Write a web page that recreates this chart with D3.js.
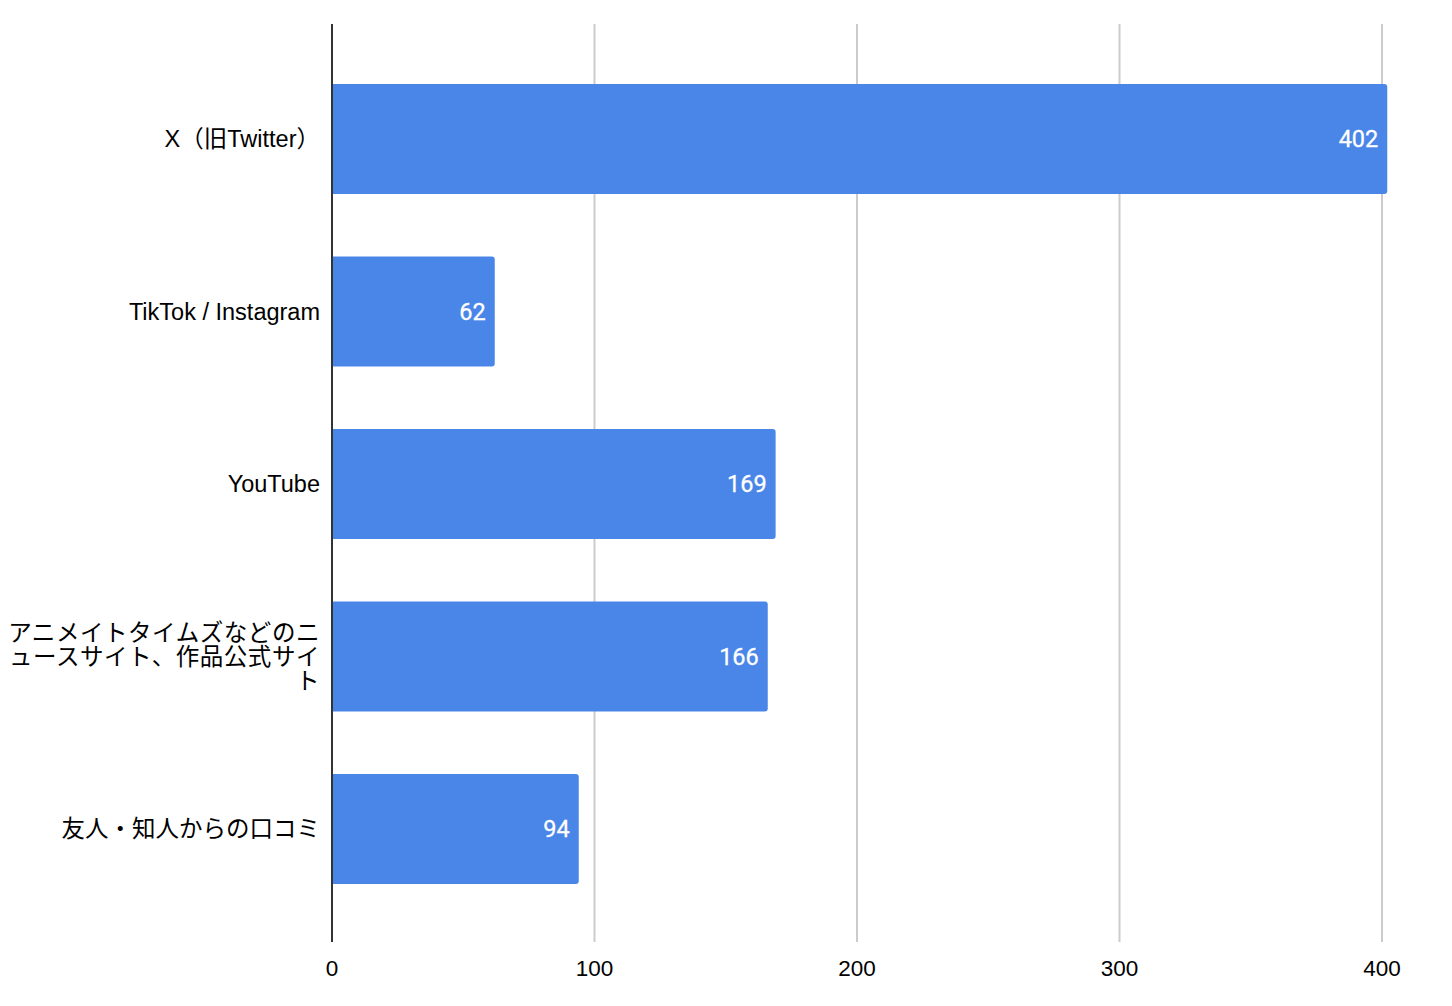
<!DOCTYPE html>
<html><head><meta charset="utf-8">
<script src="https://cdn.jsdelivr.net/npm/d3@7"></script>
<style>body{margin:0;background:#fff}svg{display:block}</style>
</head><body><svg id="c" width="1452" height="1006"></svg>
<script>
const categories = ["X（旧Twitter）","TikTok / Instagram","YouTube","アニメイトタイムズなどのニュースサイト、作品公式サイト","友人・知人からの口コミ"];
const labelLines = [["X（旧Twitter）"],["TikTok / Instagram"],["YouTube"],["アニメイトタイムズなどのニ","ュースサイト、作品公式サイ","ト"],["友人・知人からの口コミ"]];
const values = [402,62,169,166,94];
const xTicks = [0,100,200,300,400];

const svg = d3.select("#c");
const labelFont = "'Liberation Sans', Arial, 'Noto Sans CJK JP', sans-serif";
const valueFont = "Roboto, 'Liberation Sans', sans-serif";
const x = d3.scaleLinear().domain([0,400]).range([332,1382]);
const y = d3.scaleBand().domain(categories).range([25,943]).paddingInner(0.362).paddingOuter(0.342);

// gridlines
svg.append("g").selectAll("line").data(xTicks.filter(t=>t>0)).join("line")
  .attr("x1",d=>x(d)).attr("x2",d=>x(d)).attr("y1",24).attr("y2",942)
  .attr("stroke","#cccccc").attr("stroke-width",2);

// bars with rounded right corners
const r = 3;
svg.append("g").selectAll("path").data(values).join("path")
  .attr("fill","#4a86e8")
  .attr("d",(d,i)=>{
    const x0=x(0), x1=x(d), y0=y(categories[i]), h=y.bandwidth();
    return `M${x0},${y0}H${x1-r}Q${x1},${y0} ${x1},${y0+r}V${y0+h-r}Q${x1},${y0+h} ${x1-r},${y0+h}H${x0}Z`;
  });

// value labels
svg.append("g").selectAll("text").data(values).join("text")
  .attr("x",d=>x(d)-9).attr("y",(d,i)=>y(categories[i])+y.bandwidth()/2)
  .attr("dy","0.35em").attr("text-anchor","end")
  .attr("fill","#ffffff").attr("font-family",valueFont).attr("font-size",23.5)
  .attr("stroke","#ffffff").attr("stroke-width",0.3)
  .text(d=>d);

// axis line
svg.append("line").attr("x1",x(0)).attr("x2",x(0)).attr("y1",24).attr("y2",942)
  .attr("stroke","#333333").attr("stroke-width",2);

// x tick labels
svg.append("g").selectAll("text").data(xTicks).join("text")
  .attr("x",d=>x(d)).attr("y",976).attr("text-anchor","middle")
  .attr("fill","#000").attr("font-family",labelFont).attr("font-size",22.5)
  .text(d=>d);

// category labels
const lh = 24;
categories.forEach((c,i)=>{
  const lines = labelLines[i];
  const cy = y(c)+y.bandwidth()/2;
  const t = svg.append("text").attr("text-anchor","end").attr("fill","#000")
    .attr("font-family",labelFont).attr("font-size",23.5);
  lines.forEach((l,j)=>{
    const sp = t.append("tspan").attr("x",320).attr("y",cy + (j-(lines.length-1)/2)*lh).attr("dy","0.35em").text(l);
    if (lines.length>1) sp.attr("letter-spacing","0.55px");
  });
});
</script></body></html>
